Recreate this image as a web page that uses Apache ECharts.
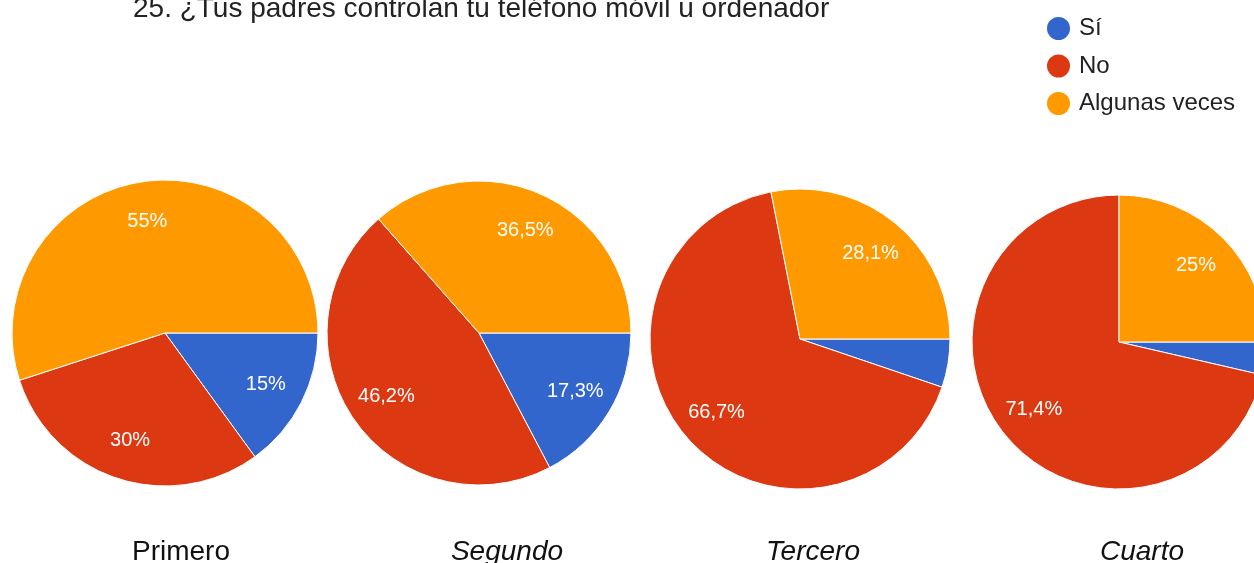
<!DOCTYPE html>
<html>
<head>
<meta charset="utf-8">
<script src="https://cdn.jsdelivr.net/npm/echarts@6/dist/echarts.min.js"></script>
<style>
  html, body { margin: 0; padding: 0; background: #fff; }
  #chart { width: 1254px; height: 563px; }
</style>
</head>
<body>
<div id="chart"></div>
<script>
const categories = ['Sí', 'No', 'Algunas veces'];
const groups = ['Primero', 'Segundo', 'Tercero', 'Cuarto'];
// porcentajes por curso, en el orden de categories
const primero = [15, 30, 55];
const segundo = [17.3, 46.2, 36.5];
const tercero = [5.2, 66.7, 28.1];
const cuarto = [3.6, 71.4, 25];

const colors = ['#3366cc', '#dc3912', '#ff9900'];
const font = '"Liberation Sans", Arial, sans-serif';

// posición de cada tarta en la imagen
const pies = [
  { values: primero, center: [165, 333], r: 153, labelX: 181, italic: false },
  { values: segundo, center: [479, 333], r: 152, labelX: 507, italic: true },
  { values: tercero, center: [800, 339], r: 150, labelX: 813, italic: true },
  { values: cuarto, center: [1119, 342], r: 147, labelX: 1142, italic: true }
];

const fmt = (v) => (v < 6 ? '' : String(v).replace('.', ',') + '%');
const toData = (vals) => vals.map((v, i) => ({ name: categories[i], value: v }));

const series = [];
pies.forEach((p) => {
  // la tarta visible
  series.push({
    type: 'pie',
    center: p.center,
    radius: p.r,
    startAngle: 0,
    clockwise: true,
    color: colors,
    silent: true,
    label: { show: false },
    labelLine: { show: false },
    itemStyle: { borderColor: '#fff', borderWidth: 1 },
    data: toData(p.values)
  });
  // capa transparente para poner las etiquetas a ~0.7 del radio
  series.push({
    type: 'pie',
    center: p.center,
    radius: p.r * 1.44,
    startAngle: 0,
    clockwise: true,
    silent: true,
    z: 5,
    itemStyle: { color: 'rgba(0,0,0,0)' },
    label: {
      show: true,
      position: 'inside',
      color: '#fff',
      fontSize: 20,
      fontFamily: font,
      formatter: (d) => fmt(d.value)
    },
    labelLine: { show: false },
    data: toData(p.values)
  });
});

const chart = echarts.init(document.getElementById('chart'));
chart.setOption({
  animation: false,
  backgroundColor: '#fff',
  title: {
    text: '25. ¿Tus padres controlan tu teléfono móvil u ordenador',
    left: 128,
    top: -10,
    textStyle: { fontSize: 28, fontWeight: 'normal', color: '#222', fontFamily: font }
  },
  legend: {
    data: categories.map((c, i) => ({ name: c, itemStyle: { color: colors[i] } })),
    orient: 'vertical',
    left: 1040,
    top: 10,
    icon: 'circle',
    itemWidth: 25,
    itemHeight: 25,
    itemGap: 10.5,
    textStyle: { fontSize: 24, color: '#222', fontFamily: font, padding: [0, 0, 0, 3] }
  },
  graphic: pies.map((p, i) => ({
    type: 'text',
    x: p.labelX,
    y: 552,
    style: {
      text: groups[i],
      fontSize: 28,
      fontStyle: p.italic ? 'italic' : 'normal',
      fontFamily: font,
      fill: '#111',
      align: 'center',
      verticalAlign: 'middle'
    }
  })),
  series: series
});
</script>
</body>
</html>
